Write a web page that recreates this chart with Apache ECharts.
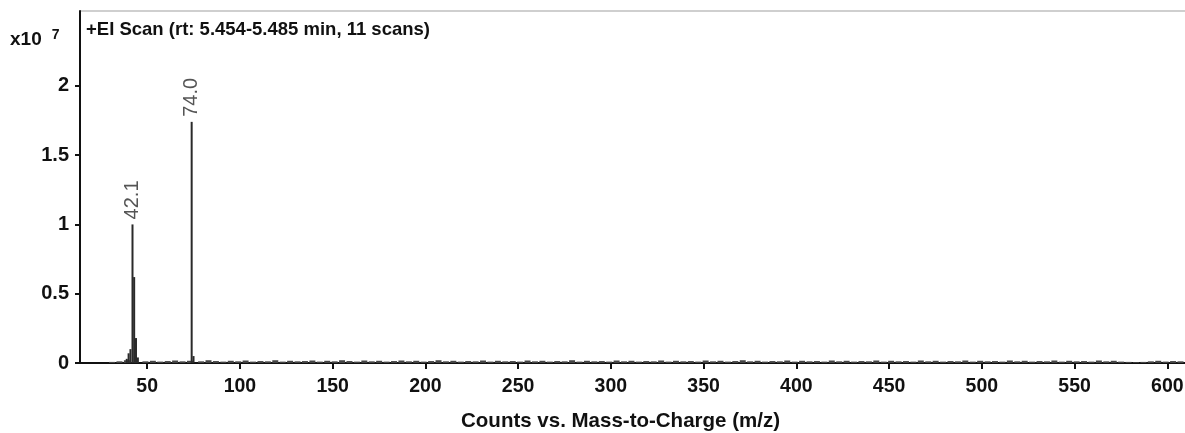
<!DOCTYPE html>
<html>
<head>
<meta charset="utf-8">
<script src="https://cdn.jsdelivr.net/npm/echarts@6/dist/echarts.min.js"></script>
<style>
html,body{margin:0;padding:0;background:#fff;}
#chart{width:1185px;height:433px;}
</style>
</head>
<body>
<div id="chart"></div>
<script>
// Values in units of x10^7 counts
const peakMz = [39, 40, 41, 42.1, 43, 44, 45, 74.0, 75];
const peakCounts = [0.03, 0.07, 0.10, 1.00, 0.62, 0.18, 0.04, 1.74, 0.05];
const labeledPeaks = ['42.1', '74.0'];

const noiseMz = [30,34,38,48,52,56,60,64,68,72,78,82,86,90,94,98,102,106,110,114,118,122,126,130,134,138,142,146,150,154,158,162,166,170,174,178,182,186,190,194,198,202,206,210,214,218,222,226,230,234,238,242,246,250,254,258,262,266,270,274,278,282,286,290,294,298,302,306,310,314,318,322,326,330,334,338,342,346,350,354,358,362,366,370,374,378,382,386,390,394,398,402,406,410,414,418,422,426,430,434,438,442,446,450,454,458,462,466,470,474,478,482,486,490,494,498,502,506,510,514,518,522,526,530,534,538,542,546,550,554,558,562,566,570,574,578,582,586,590,594,598,602,606];
const noiseCounts = [.008,.012,.020,.012,.016,.010,.014,.018,.012,.016,.012,.020,.014,.010,.016,.012,.018,.010,.014,.012,.020,.010,.016,.012,.014,.018,.010,.016,.012,.020,.014,.010,.018,.012,.016,.010,.014,.018,.012,.016,.010,.014,.020,.012,.016,.010,.014,.012,.018,.010,.016,.012,.014,.010,.018,.012,.016,.010,.014,.012,.020,.010,.016,.012,.014,.010,.018,.012,.016,.010,.014,.012,.018,.010,.016,.012,.014,.010,.018,.012,.016,.010,.014,.020,.012,.016,.010,.014,.012,.018,.010,.016,.012,.014,.010,.018,.012,.016,.010,.014,.012,.018,.010,.016,.012,.014,.010,.018,.012,.016,.010,.014,.012,.018,.010,.016,.012,.014,.010,.018,.012,.016,.010,.014,.012,.018,.010,.016,.012,.014,.010,.018,.012,.016,.010,.008,.006,.008,.012,.016,.010,.014,.012];

const xTicks = [50,100,150,200,250,300,350,400,450,500,550,600];
const yTicks = [0,0.5,1,1.5,2];

const titleText = '+EI Scan (rt: 5.454-5.485 min, 11 scans)';
const xName = 'Counts vs. Mass-to-Charge (m/z)';

const font = 'Liberation Sans, Arial, sans-serif';
const noiseData = noiseMz.map((m, i) => [m, noiseCounts[i]]);
const peakData = peakMz.map((m, i) => {
  const lab = m.toFixed(1);
  const item = { value: [m, peakCounts[i]] };
  if (labeledPeaks.indexOf(lab) >= 0) {
    item.label = {
      show: true, position: 'top', rotate: 90, distance: 5,
      align: 'left', verticalAlign: 'middle',
      formatter: lab, color: '#555', fontSize: 20,
      fontFamily: font
    };
  }
  return item;
});

const chart = echarts.init(document.getElementById('chart'), null, { renderer: 'canvas' });
chart.setOption({
  animation: false,
  backgroundColor: '#fff',
  title: [
    { text: titleText, left: 81, top: 15,
      textStyle: { fontFamily: font, fontSize: 18.5, fontWeight: 'bold', color: '#111' } },
    { text: '{a|x10}  {b|7}', left: 5, top: 23,
      textStyle: { rich: {
        a: { fontFamily: font, fontSize: 19, fontWeight: 'bold', color: '#111' },
        b: { fontFamily: font, fontSize: 14, fontWeight: 'bold', color: '#111', verticalAlign: 'top', padding: [0,0,10,0] }
      } } }
  ],
  grid: { left: 80, right: 0, top: 11, bottom: 70, show: false, containLabel: false, outerBoundsMode: 'none' },
  xAxis: {
    type: 'value', min: 13.8, max: 609.5,
    name: xName, nameLocation: 'middle', nameGap: 48,
    nameTextStyle: { fontFamily: font, fontSize: 20.5, fontWeight: 'bold', color: '#111', padding: [0, 24, 0, 0] },
    axisLine: { show: true, onZero: false, lineStyle: { color: '#111', width: 2 } },
    axisTick: { show: true, customValues: xTicks, length: 6, lineStyle: { color: '#111', width: 2 } },
    axisLabel: { customValues: xTicks, margin: 14, fontFamily: font, fontSize: 19.5, fontWeight: 'bold', color: '#111' },
    splitLine: { show: false }
  },
  yAxis: {
    type: 'value', min: 0, max: 2.54,
    axisLine: { show: true, lineStyle: { color: '#111', width: 2 } },
    axisTick: { show: true, customValues: yTicks, length: 5, lineStyle: { color: '#111', width: 2 } },
    axisLabel: { customValues: yTicks, margin: 11, fontFamily: font, fontSize: 20, fontWeight: 'bold', color: '#111' },
    splitLine: { show: false }
  },
  graphic: [],
  series: [
    {
      type: 'bar', name: 'noise',
      barWidth: 6, barGap: '-100%',
      itemStyle: { color: '#444' },
      data: noiseData, z: 2
    },
    {
      type: 'bar', name: 'peaks',
      barWidth: 2, barGap: '-100%',
      itemStyle: { color: '#2a2a2a' },
      data: peakData, z: 3
    }
  ]
});
const gridRect = chart.getModel().getComponent('grid').coordinateSystem.getRect();
chart.setOption({ graphic: [{
  type: 'line', silent: true,
  shape: { x1: gridRect.x, y1: gridRect.y, x2: gridRect.x + gridRect.width, y2: gridRect.y },
  style: { stroke: '#cfcfcf', lineWidth: 2 }
}]});
</script>
</body>
</html>
